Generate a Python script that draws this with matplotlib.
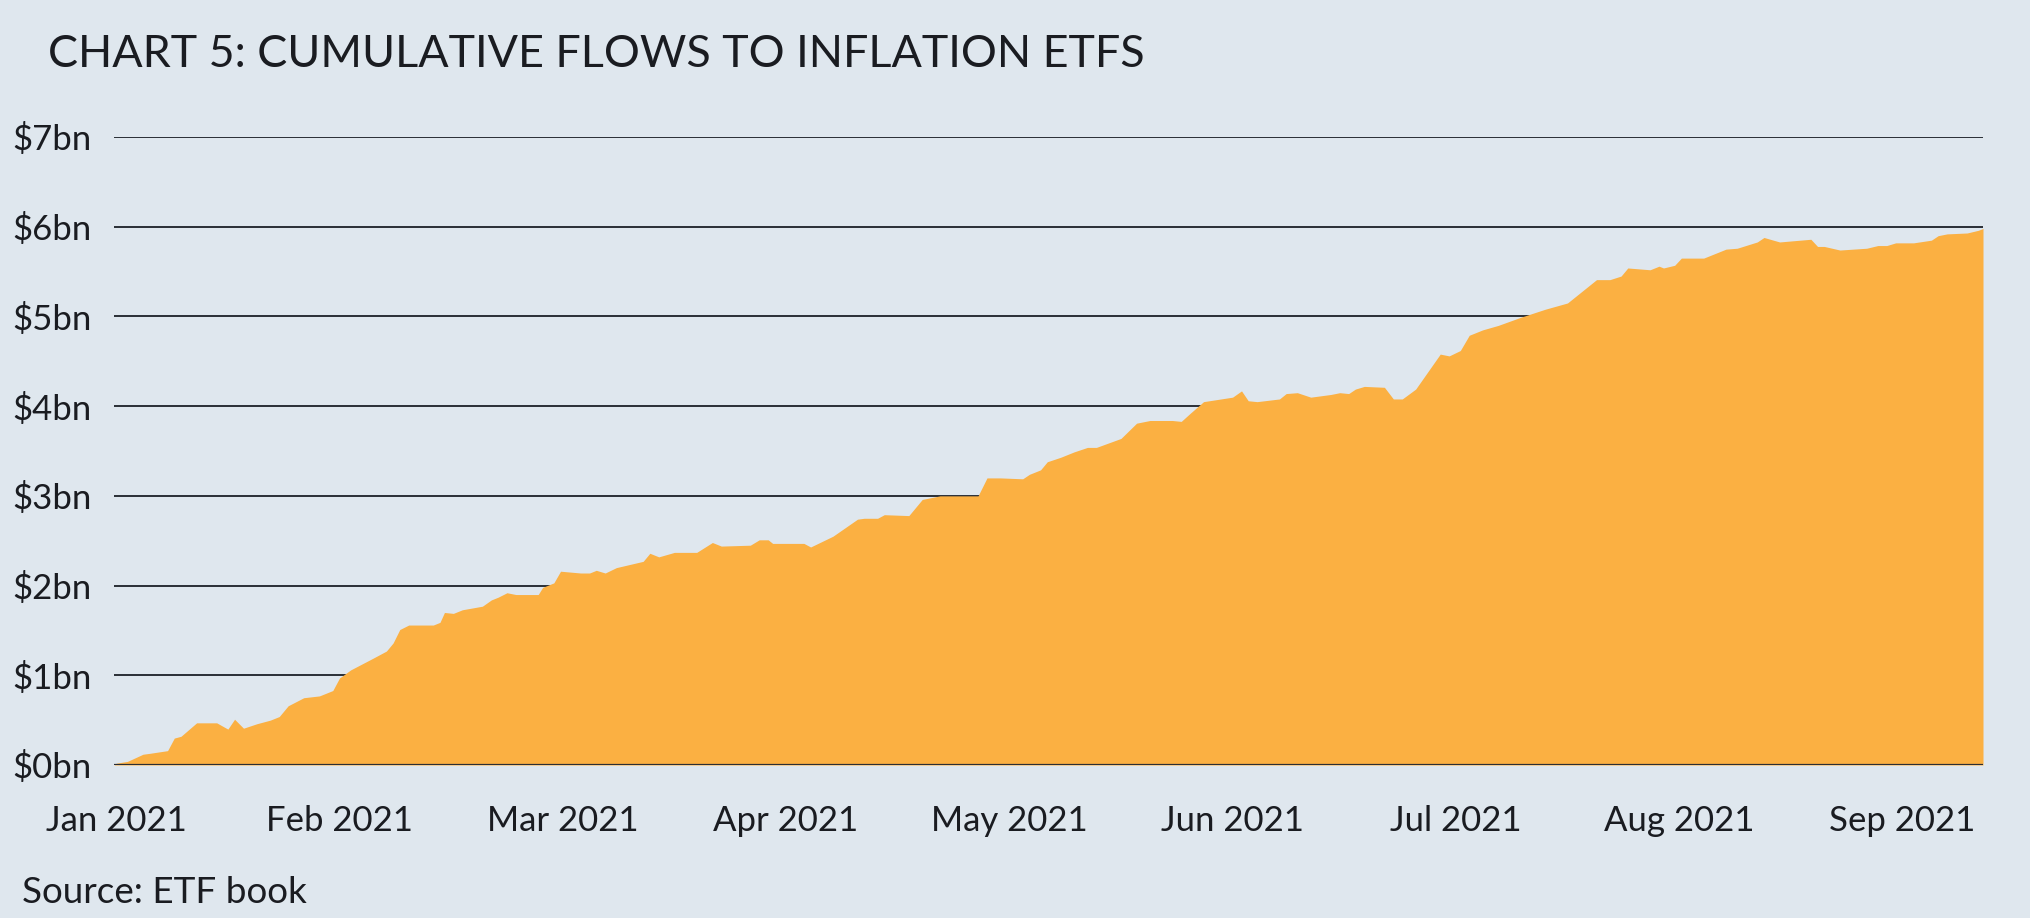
import matplotlib.pyplot as plt
import numpy as np

# months since start of Jan 2021 (fractional) and cumulative flows in $bn
months = [-0.01, 0.00, 0.05, 0.12, 0.15, 0.23, 0.26, 0.29, 0.36, 0.45,
          0.50, 0.53, 0.57, 0.63, 0.69, 0.73, 0.77, 0.84, 0.91, 0.97,
          1.00, 1.05, 1.15, 1.21, 1.24, 1.27, 1.31, 1.42, 1.45, 1.47,
          1.51, 1.55, 1.64, 1.68, 1.71, 1.75, 1.79, 1.89, 1.91, 1.96,
          1.99, 2.08, 2.12, 2.15, 2.19, 2.24, 2.36, 2.39, 2.43, 2.50,
          2.60, 2.67, 2.71, 2.84, 2.88, 2.92, 2.94, 3.08, 3.11, 3.21,
          3.32, 3.35, 3.41, 3.44, 3.55, 3.61, 3.69, 3.82, 3.86, 3.90,
          3.96, 4.06, 4.09, 4.14, 4.17, 4.23, 4.29, 4.35, 4.39, 4.50,
          4.57, 4.63, 4.73, 4.77, 4.81, 4.87, 5.00, 5.04, 5.07, 5.11,
          5.21, 5.24, 5.29, 5.35, 5.44, 5.48, 5.52, 5.55, 5.59, 5.68,
          5.72, 5.76, 5.82, 5.93, 5.97, 6.02, 6.06, 6.12, 6.19, 6.29,
          6.40, 6.50, 6.63, 6.69, 6.74, 6.77, 6.87, 6.91, 6.93, 6.98,
          7.01, 7.11, 7.21, 7.26, 7.35, 7.38, 7.45, 7.59, 7.62, 7.65,
          7.72, 7.84, 7.89, 7.93, 7.97, 8.05, 8.13, 8.16, 8.20, 8.29,
          8.34, 8.361]
flows = [0.00, 0.02, 0.04, 0.12, 0.13, 0.16, 0.30, 0.32, 0.47, 0.47,
         0.40, 0.51, 0.41, 0.46, 0.50, 0.54, 0.66, 0.75, 0.77, 0.83,
         0.97, 1.06, 1.19, 1.27, 1.36, 1.51, 1.56, 1.56, 1.59, 1.70,
         1.69, 1.73, 1.77, 1.84, 1.87, 1.92, 1.90, 1.90, 1.98, 2.03,
         2.16, 2.14, 2.14, 2.17, 2.14, 2.20, 2.27, 2.36, 2.32, 2.37,
         2.37, 2.48, 2.44, 2.45, 2.51, 2.51, 2.47, 2.47, 2.43, 2.55,
         2.74, 2.75, 2.75, 2.79, 2.78, 2.96, 3.00, 3.00, 3.00, 3.20,
         3.20, 3.19, 3.24, 3.29, 3.38, 3.43, 3.49, 3.54, 3.54, 3.64,
         3.81, 3.84, 3.84, 3.83, 3.92, 4.05, 4.10, 4.17, 4.06, 4.05,
         4.08, 4.14, 4.15, 4.10, 4.13, 4.15, 4.14, 4.19, 4.22, 4.21,
         4.08, 4.08, 4.19, 4.58, 4.56, 4.62, 4.79, 4.85, 4.90, 4.99,
         5.08, 5.15, 5.41, 5.41, 5.45, 5.54, 5.52, 5.56, 5.54, 5.57,
         5.65, 5.65, 5.75, 5.76, 5.83, 5.88, 5.83, 5.86, 5.78, 5.78,
         5.74, 5.76, 5.79, 5.79, 5.82, 5.82, 5.85, 5.90, 5.92, 5.93,
         5.96, 5.98]

month_labels = ['Jan 2021', 'Feb 2021', 'Mar 2021', 'Apr 2021', 'May 2021',
                'Jun 2021', 'Jul 2021', 'Aug 2021', 'Sep 2021']
y_ticks = [0, 1, 2, 3, 4, 5, 6, 7]

bg = '#dfe7ee'
orange = '#fbb042'
ink = '#1a1c21'

plt.rcParams['font.family'] = ['Lato', 'DejaVu Sans']

fig = plt.figure(figsize=(20.3, 9.18), dpi=100, facecolor=bg)
ax = fig.add_axes([114 / 2030, 1 - 765 / 918, (1983 - 114) / 2030, (765 - 137) / 918])
ax.set_facecolor(bg)

for v in y_ticks[1:]:
    ax.axhline(v, color='#2a2e35', linewidth=1.4, zorder=1)
ax.fill_between(months, flows, 0, color=orange, linewidth=0, zorder=2)
ax.axhline(0, color='#2a2e35', linewidth=1.6, zorder=3)

ax.set_xlim(-0.01, 8.361)
ax.set_ylim(0, 7)
ax.set_xticks(np.arange(len(month_labels)))
ax.set_xticklabels(month_labels)
ax.set_yticks(y_ticks)
ax.set_yticklabels(['$%dbn' % v for v in y_ticks])
ax.tick_params(axis='both', length=0, labelsize=25, labelcolor=ink)
ax.tick_params(axis='y', pad=16)
ax.tick_params(axis='x', pad=29)
for s in ax.spines.values():
    s.set_visible(False)

fig.text(48 / 2030, 1 - 67 / 918, 'CHART 5: CUMULATIVE FLOWS TO INFLATION ETFS',
         fontsize=32.3, color=ink, va='baseline', ha='left')
fig.text(22 / 2030, 1 - 903 / 918, 'Source: ETF book',
         fontsize=26.6, color=ink, va='baseline', ha='left')

fig.savefig('out.png', dpi=100, facecolor=bg)
